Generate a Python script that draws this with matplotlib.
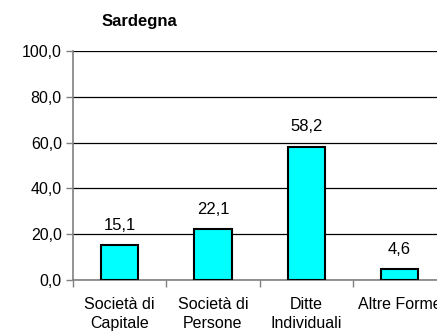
import matplotlib.pyplot as plt
import numpy as np

plt.rcParams['font.family'] = ['Liberation Sans', 'DejaVu Sans']

categorie = ["Società di\nCapitale", "Società di\nPersone", "Ditte\nIndividuali", "Altre Forme"]
valori = [15.1, 22.1, 58.2, 4.6]
etichette = ["15,1", "22,1", "58,2", "4,6"]
yticks = [0, 20, 40, 60, 80, 100]
ytick_labels = ["0,0", "20,0", "40,0", "60,0", "80,0", "100,0"]

fig = plt.figure(figsize=(4.37, 3.32), dpi=100)
ax = fig.add_axes([0.167, 0.157, 0.854, 0.689])

x = np.arange(len(categorie))
ax.bar(x, valori, width=0.4, color='#00FFFF', edgecolor='black', linewidth=1.5, zorder=3)

# etichette dei valori sopra le barre
for xi, v, lab in zip(x, valori, etichette):
    ax.text(xi, v + 5.5, lab, ha='center', va='bottom', fontsize=12)

ax.set_xlim(-0.5, 3.5)
ax.set_ylim(0, 100)
ax.set_yticks(yticks)
ax.set_yticklabels(ytick_labels, fontsize=11.5)
ax.yaxis.grid(True, color='black', linewidth=0.9, zorder=0)
ax.set_axisbelow(True)

ax.set_xticks(x)
ax.set_xticklabels(categorie, fontsize=11.5, linespacing=1.35)
ax.tick_params(axis='x', which='major', length=0, pad=12)
ax.set_xticks([-0.5, 0.5, 1.5, 2.5], minor=True)
ax.tick_params(axis='x', which='minor', length=5, color='#808080', width=1)
ax.tick_params(axis='y', length=5, color='#808080', width=1, pad=3)

for s in ['top', 'right']:
    ax.spines[s].set_visible(False)
ax.spines['left'].set_color('#808080')
ax.spines['bottom'].set_color('#808080')
ax.spines['left'].set_linewidth(1.2)
ax.spines['bottom'].set_linewidth(1.2)

fig.text(0.318, 0.935, "Sardegna", ha='center', va='center', fontsize=12, fontweight='bold')

fig.savefig('out.png', dpi=100)
